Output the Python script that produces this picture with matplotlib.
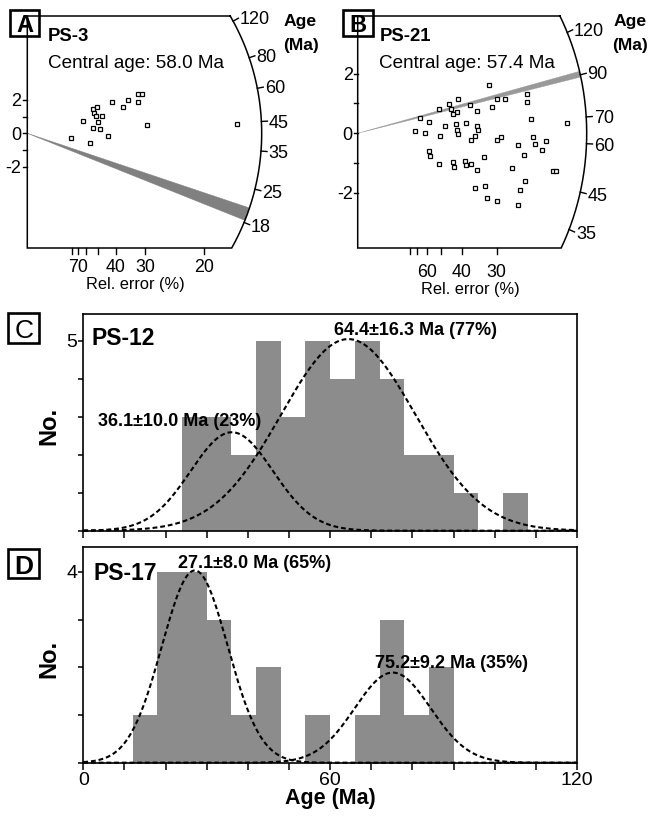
import numpy as np
import matplotlib
matplotlib.use("Agg")
import matplotlib.pyplot as plt
from matplotlib.patches import Rectangle, Polygon

# ---------------- data ----------------
# Panel A (PS-3): radial plot, single-grain relative error (%) and standardised estimate
a_rel_err = [81.0, 63.2, 56.5, 54.1, 52.8, 51.8, 50.6, 47.6, 53.6, 50.3,
             48.7, 43.7, 41.9, 36.9, 35.0, 32.1, 32.1, 30.9, 29.6, 16.9]
a_z = [-0.30, 0.76, -0.56, 1.44, 1.20, 1.04, 1.60, 1.06, 0.30, 0.66,
       0.24, -0.16, 1.90, 1.60, 2.00, 1.86, 2.36, 2.36, 0.48, 0.56]
a_age_ticks = [120, 80, 60, 45, 35, 25, 18]
a_band_ages = [18.4, 20.9]
a_err_ticks = [80, 70, 60, 50, 40, 30, 20]
a_err_labels = [70, 40, 30, 20]
a_name = "PS-3"
a_central = "Central age: 58.0 Ma"

# Panel B (PS-21)
b_rel_err = [31.8, 41.5, 29.9, 28.3, 24.6, 24.7, 45.7, 51.3, 44.6, 41.9,
             43.9, 37.0, 35.0, 31.0, 66.6, 58.2, 72.4, 62.2, 50.5, 47.9,
             42.4, 38.4, 42.1, 41.5, 35.0, 34.8, 35.5, 36.9, 29.9, 29.0,
             24.0, 19.9, 23.8, 22.1, 23.5, 22.6, 26.0, 25.1, 58.7, 57.9,
             51.3, 43.8, 43.4, 39.0, 38.6, 36.9, 35.0, 32.9, 27.1, 21.4,
             21.0, 24.9, 25.7, 35.6, 32.8, 32.3, 30.0, 26.0]
b_z = [1.61, 1.14, 1.14, 1.14, 1.31, 1.05, 0.99, 0.83, 0.81, 0.72,
       0.64, 0.96, 0.75, 0.89, 0.50, 0.39, 0.07, 0.01, -0.08, 0.24,
       0.30, 0.35, 0.12, -0.01, 0.24, 0.11, -0.10, -0.21, -0.21, -0.13,
       0.48, 0.36, -0.11, -0.26, -0.37, -0.55, -0.40, -0.74, -0.58, -0.76,
       -1.04, -0.97, -1.12, -0.93, -1.06, -1.04, -1.23, -0.81, -1.15, -1.27,
       -1.27, -1.59, -1.91, -1.82, -1.77, -2.16, -2.26, -2.41]
b_age_ticks = [120, 90, 70, 60, 45, 35]
b_band_ages = [88.8, 92.0]
b_err_ticks = [80, 70, 60, 50, 40, 30]
b_err_labels = [60, 40, 30]
b_name = "PS-21"
b_central = "Central age: 57.4 Ma"

z_ticks = [-2, -1, 0, 1, 2]
z_labels = [-2, 0, 2]

# Panel C (PS-12): histogram (6 Ma bins) and mixture components
bin_width = 6
c_bin_start = [24, 30, 36, 42, 48, 54, 60, 66, 72, 78, 84, 90, 96, 102]
c_counts = [3, 3, 2, 5, 3, 5, 4, 5, 4, 2, 2, 1, 0, 1]
c_means = [36.1, 64.4]
c_sds = [10.0, 16.3]
c_peaks = [2.59, 5.04]
c_comp_labels = ["36.1±10.0 Ma (23%)", "64.4±16.3 Ma (77%)"]

# Panel D (PS-17)
d_bin_start = [12, 18, 24, 30, 36, 42, 48, 54, 60, 66, 72, 78, 84]
d_counts = [1, 4, 4, 3, 1, 2, 0, 1, 0, 1, 3, 1, 2]
d_means = [27.1, 75.2]
d_sds = [8.0, 9.2]
d_peaks = [4.03, 1.89]
d_comp_labels = ["27.1±8.0 Ma (65%)", "75.2±9.2 Ma (35%)"]

age_tick_values = list(range(0, 121, 10))
age_tick_labels = [0, 60, 120]

# ---------------- style ----------------
ARIAL = ['Liberation Sans', 'DejaVu Sans']
plt.rcParams['font.family'] = ARIAL
BAR_C = '#8c8c8c'

W, H = 652, 817
fig = plt.figure(figsize=(W / 100, H / 100), dpi=100)


def px_axes(L, T, R, B, **kw):
    return fig.add_axes([L / W, 1 - B / H, (R - L) / W, (B - T) / H], **kw)


def radial_panel(box, origin, sx, sy, a, b, frame_top, frame_bot, k, tref,
                 rel_err, z, age_ticks, band_ages, band_color,
                 err_ticks, err_labels, err_base, ylab_off):
    L, T, R, B = box
    ox, oy = origin
    ax = px_axes(L, T, R, B)
    ax.set_xlim((L - ox) / sx, (R - ox) / sx)
    ax.set_ylim((oy - B) / sy, (oy - T) / sy)
    ax.axis('off')

    def D(X, Y):
        return np.asarray(X, float) / sx, np.asarray(Y, float) / sy

    def on_arc(age):
        s = k * (np.log(age) - np.log(tref))
        X = 1.0 / np.sqrt(1.0 / a ** 2 + s ** 2 / b ** 2)
        return X, s * X

    Yt, Yb = oy - frame_top, oy - frame_bot
    Xt = a * np.sqrt(1 - (Yt / b) ** 2)
    Xb = a * np.sqrt(1 - (Yb / b) ** 2)
    th = np.linspace(np.arctan2(Yb / b, Xb / a), np.arctan2(Yt / b, Xt / a), 300)
    fx = np.concatenate([[Xt, 0, 0, Xb], a * np.cos(th)])
    fy = np.concatenate([[Yt, Yt, Yb, Yb], b * np.sin(th)])
    ax.plot(*D(fx, fy), color='k', lw=1.1, clip_on=False, solid_joinstyle='miter', zorder=2)

    # central-age band
    ages = np.exp(np.linspace(np.log(band_ages[0]), np.log(band_ages[1]), 40))
    bx, by = on_arc(ages)
    px_, py_ = D(np.r_[0, bx], np.r_[0, by])
    ax.add_patch(Polygon(np.column_stack([px_, py_]), closed=True, fc=band_color,
                         ec=band_color, lw=0.3, zorder=1))

    # age ticks on arc
    for t in age_ticks:
        X, Y = on_arc(t)
        r = np.hypot(X, Y)
        ux, uy = X / r, Y / r
        ax.plot(*D([X, X + 6 * ux], [Y, Y + 6 * uy]), color='k', lw=1.0, clip_on=False)
        ax.text(*D(X + 7.5 * ux, Y + 7.5 * uy), str(t), ha='left', va='center_baseline',
                fontsize=13, clip_on=False)

    # z axis ticks
    for zz in z_ticks:
        ax.plot([0, -4 / sx], [zz, zz], color='k', lw=1.0, clip_on=False)
    for zz in z_labels:
        ax.text(ylab_off / sx, zz, str(zz), ha='right', va='center_baseline', fontsize=13)

    # relative error ticks
    for e in err_ticks:
        ax.plot([100 / e, 100 / e], [Yb / sy, (Yb - 6) / sy], color='k', lw=1.0, clip_on=False)
    for e in err_labels:
        ax.text(100 / e, (oy - err_base) / sy, str(e), ha='center', va='baseline', fontsize=12.8)

    # grains
    ax.plot(100 / np.asarray(rel_err, float), z, ls='none', marker='s', ms=3.3,
            mfc='white', mec='k', mew=0.9, zorder=3)
    return ax


radial_panel((0, 0, 326, 300), (27.3, 133.3), 35.4, 16.67, 234.4, 234.4, 16, 248,
             0.504, 40.7, a_rel_err, a_z, a_age_ticks, a_band_ages, '#808080',
             a_err_ticks, a_err_labels, 271.7, -6.0)
radial_panel((326, 0, 652, 300), (357.7, 133.3), 41.7, 29.8, 229.0, 250.0, 16, 248,
             0.76, 63.7, b_rel_err, b_z, b_age_ticks, b_band_ages, '#999999',
             b_err_ticks, b_err_labels, 276.7, -5.0)


def hist_panel(T, B, ymax, starts, counts, means, sds, peaks, comp_labels, label_xy,
               name, name_xy, show_xlabels):
    ax = px_axes(83.3, T, 577, B)
    ax.bar(starts, counts, width=bin_width, align='edge', color=BAR_C, lw=0, zorder=1)
    xs = np.linspace(0, 120, 900)
    for m, s, pk in zip(means, sds, peaks):
        ax.plot(xs, pk * np.exp(-0.5 * ((xs - m) / s) ** 2), color='k', lw=1.5,
                ls=(0, (2.3, 1.4)), zorder=3, clip_on=False)
    ax.set_xlim(0, 120)
    ax.set_ylim(0, ymax)
    ax.set_xticks(age_tick_values)
    if show_xlabels:
        ax.set_xticklabels([str(v) if v in age_tick_labels else '' for v in age_tick_values])
    else:
        ax.set_xticklabels([])
    yt = list(range(0, int(ymax) + 1))
    ax.set_yticks(yt)
    ax.set_yticklabels(['' for _ in yt[:-1]] + [str(yt[-1])])
    ax.tick_params(axis='x', direction='out', length=5, width=1.1, labelsize=14, pad=1.5)
    ax.tick_params(axis='y', direction='out', length=3.6, width=1.1, labelsize=14, pad=0.8)
    for sp in ax.spines.values():
        sp.set_linewidth(1.2)
    for lab, (x, y) in zip(comp_labels, label_xy):
        ax.text(x, y, lab, ha='center', va='baseline', fontsize=13,
                fontweight='bold', zorder=4)
    ax.text(name_xy[0], name_xy[1], name, ha='left', va='baseline', fontsize=16.5,
            fontweight='bold', zorder=4)
    return ax


hist_panel(314, 530.7, 5.70, c_bin_start, c_counts, c_means, c_sds, c_peaks,
           c_comp_labels, [(23.3, 2.755), (80.7, 5.15)], "PS-12", (2.1, 4.89), False)
hist_panel(547.3, 762.7, 4.516, d_bin_start, d_counts, d_means, d_sds, d_peaks,
           d_comp_labels, [(41.6, 4.075), (89.5, 1.99)], "PS-17", (2.4, 3.83), True)

# ---------------- overlay texts / panel letters ----------------
ov = fig.add_axes([0, 0, 1, 1], zorder=10)
ov.set_xlim(0, W)
ov.set_ylim(H, 0)
ov.axis('off')

for letter, (x0, y0, x1, y1), fs, wt in [("A", (10, 10, 39, 35.5), 17, 'bold'),
                                          ("B", (343, 10, 373, 35.5), 17, 'bold'),
                                          ("C", (8.3, 313.3, 39, 343.3), 19, 'normal'),
                                          ("D", (8.3, 549.3, 39, 578.3), 19, 'bold')]:
    ov.add_patch(Rectangle((x0, y0), x1 - x0, y1 - y0, fill=False, ec='k', lw=1.9))
    ov.text((x0 + x1) / 2, (y0 + y1) / 2 + 0.5, letter, ha='center', va='center_baseline',
            fontsize=fs, fontweight=wt)

# radial plot headers
for name, central, x, agex, max_, relx, rely in [(a_name, a_central, 48, 283.3, 282.7, 135, 289.3),
                                                 (b_name, b_central, 379.3, 613.3, 611.7, 470, 294)]:
    ov.text(x, 40.7, name, ha='left', va='baseline', fontsize=13.3, fontweight='bold')
    ov.text(x, 68.3, central, ha='left', va='baseline', fontsize=13.6)
    ov.text(agex, 25.7, "Age", ha='left', va='baseline', fontsize=12.6, fontweight='bold')
    ov.text(max_, 50, "(Ma)", ha='left', va='baseline', fontsize=12.5, fontweight='bold')
    ov.text(relx, rely, "Rel. error (%)", ha='center', va='baseline', fontsize=11.8)

# histogram axis titles
ov.text(48.5, 426, "No.", rotation=90, ha='center', va='center', fontsize=17, fontweight='bold')
ov.text(48.5, 659, "No.", rotation=90, ha='center', va='center', fontsize=17, fontweight='bold')
ov.text(330, 804, "Age (Ma)", ha='center', va='baseline', fontsize=15.5, fontweight='bold')

fig.savefig("out.png", dpi=100)
